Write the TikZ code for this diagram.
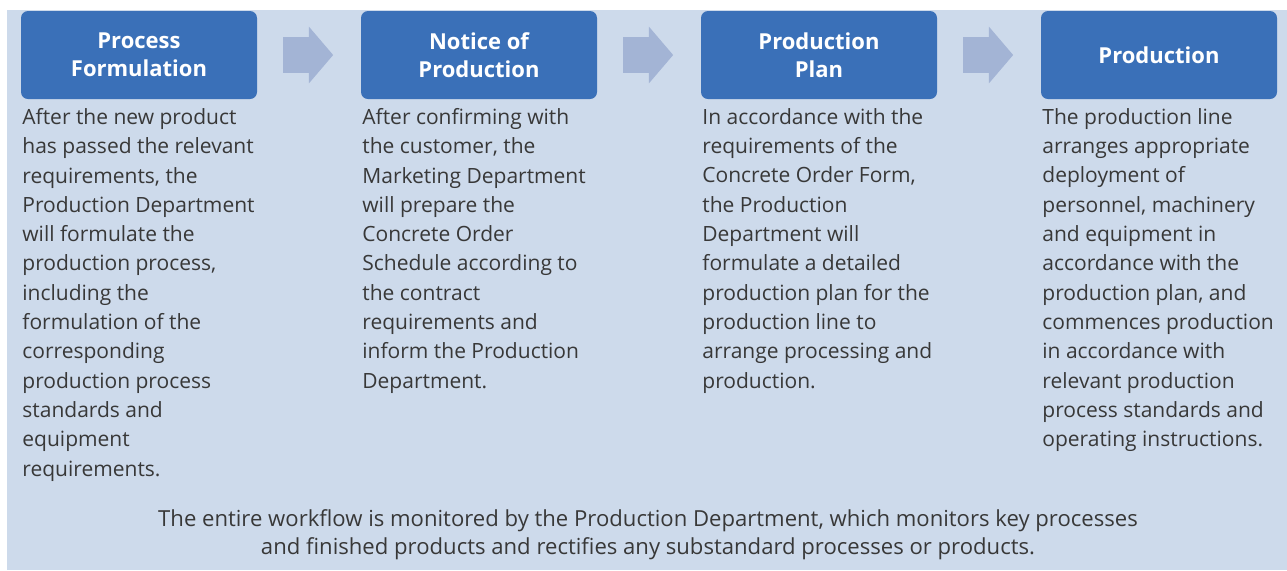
\documentclass[tikz,border=0pt]{standalone}
\usepackage{fontspec}
\setmainfont{Open Sans}
\usetikzlibrary{shapes.arrows}
\definecolor{stepblue}{HTML}{3A70B8}
\definecolor{panelblue}{HTML}{CDDAEB}
\definecolor{arrowblue}{HTML}{A3B4D5}
\definecolor{bodygray}{HTML}{383838}
\tikzset{header/.style={fill=stepblue, rounded corners=3.5pt, text=white, font=\bfseries\fontsize{11}{14}\selectfont, minimum width=118pt, minimum height=44pt, align=center, inner sep=0pt},
  body/.style={anchor=north west, align=left, text=bodygray, font=\fontsize{10.5}{14.65}\selectfont, inner sep=0pt},
  flow/.style={single arrow, fill=arrowblue, inner xsep=0pt, inner ysep=8.75pt, minimum height=25pt, single arrow head extend=5.25pt, single arrow tip angle=99, xshift=-4.25pt}}

\begin{document}
\begin{tikzpicture}[x=0.5pt, y=-0.5pt]
    \useasboundingbox (0,0) rectangle (1287,570);
    \fill [panelblue] (7,10) rectangle (1287,570);
    \def\gap{340}
    \node [header] (h1) at (139,55) {Process\\Formulation};
    \node [header] (h2) at (139+\gap,55) {Notice of\\Production};
    \node [header] (h3) at (139+2*\gap,55) {Production\\Plan};
    \node [header] (h4) at (139+3*\gap,55) {Production};
    \node [body] (b1) at (22,108) {After the new product\\has passed the relevant\\requirements, the\\Production Department\\will formulate the\\production process,\\including the\\formulation of the\\corresponding\\production process\\standards and\\equipment\\requirements.};
    \node [body] (b2) at (22+\gap,108) {After confirming with\\the customer, the\\Marketing Department\\will prepare the\\Concrete Order\\Schedule according to\\the contract\\requirements and\\inform the Production\\Department.};
    \node [body] (b3) at (22+2*\gap,108) {In accordance with the\\requirements of the\\Concrete Order Form,\\the Production\\Department will\\formulate a detailed\\production plan for the\\production line to\\arrange processing and\\production.};
    \node [body] (b4) at (22+3*\gap,108) {The production line\\arranges appropriate\\deployment of\\personnel, machinery\\and equipment in\\accordance with the\\production plan, and\\commences production\\in accordance with\\relevant production\\process standards and\\operating instructions.};
    \node [body, anchor=center, align=center, font=\fontsize{11.05}{14}\selectfont] (note) at (648,535) {The entire workflow is monitored by the Production Department, which monitors key processes\\and finished products and rectifies any substandard processes or products.};
    \path (h1.east) -- (h2.west) node [flow, midway] (a12) {};
    \path (h2.east) -- (h3.west) node [flow, midway] (a23) {};
    \path (h3.east) -- (h4.west) node [flow, midway] (a34) {};
\end{tikzpicture}
\end{document}
